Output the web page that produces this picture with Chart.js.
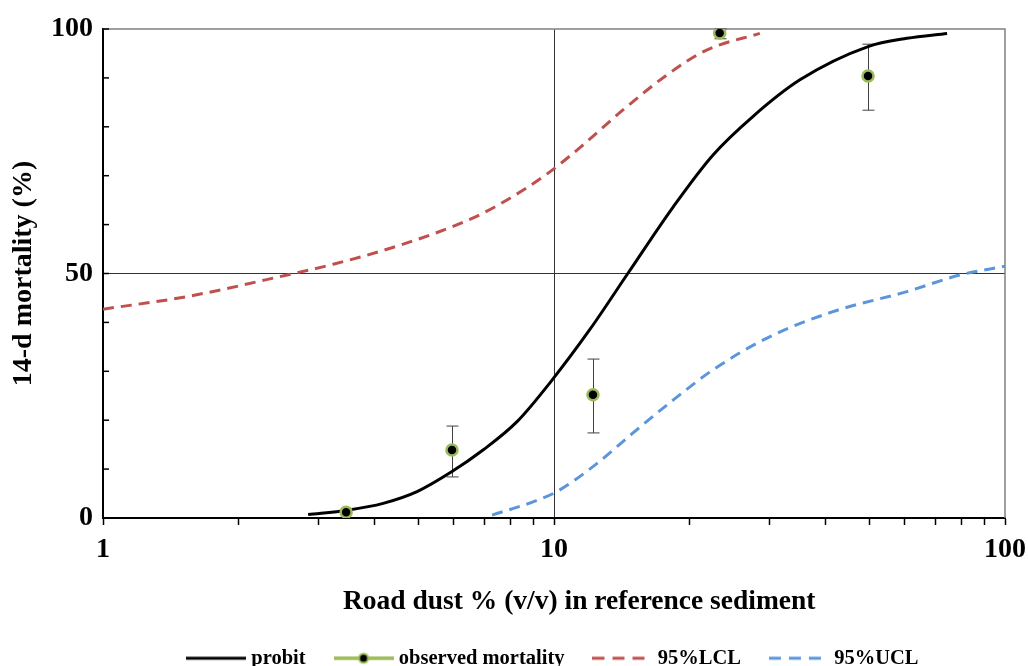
<!DOCTYPE html>
<html>
<head>
<meta charset="utf-8">
<title>Road dust mortality</title>
<script src="https://cdn.jsdelivr.net/npm/chart.js"></script>
<style>
  html, body { margin: 0; padding: 0; background: #fff; }
  #wrap { width: 1028px; height: 666px; }
</style>
</head>
<body>
<div id="wrap"><canvas id="mortalityChart"></canvas></div>
<script>
// observed mortality (with error bar ends)
const obsDust = [3.46, 5.94, 12.2, 23.3, 49.7];
const obsMortality = [1.2, 13.9, 25.2, 99.2, 90.4];
const obsLow = [1.2, 8.4, 17.4, 98.0, 83.4];
const obsHigh = [1.2, 18.8, 32.5, 100, 96.9];

// probit fit
const probitDust = [2.85, 3.48, 4.18, 4.97, 5.94, 6.96, 8.28, 9.9, 12.0, 14.6, 18.4, 22.5, 27.6, 35.1, 49.7, 60.6, 74.4];
const probitMortality = [0.7, 1.6, 3.0, 5.4, 9.5, 13.9, 19.7, 28.2, 38.5, 50.1, 63.7, 74.2, 82.1, 89.6, 96.4, 98.1, 99.1];

// 95% lower confidence limit
const lclDust = [1, 1.54, 2.56, 3.24, 4.56, 6.41, 7.59, 9.63, 11.4, 14.2, 17.8, 21.8, 28.6];
const lclMortality = [42.7, 45.3, 49.7, 51.9, 55.8, 60.8, 64.2, 70.3, 75.7, 83.4, 90.6, 95.7, 99.1];

// 95% upper confidence limit
const uclDust = [7.29, 8.98, 10.15, 12.2, 14.97, 18.36, 22.52, 29.67, 41.55, 60.6, 79.5, 100];
const uclMortality = [0.6, 3.3, 5.4, 10.5, 17.4, 24.1, 30.3, 36.8, 42.2, 46.3, 49.7, 51.5];

const xTicks = [1, 2, 3, 4, 5, 6, 7, 8, 9, 10, 20, 30, 40, 50, 60, 70, 80, 90, 100];
const xLabels = ['1', '10', '100'];
const yTicks = [0, 10, 20, 30, 40, 50, 60, 70, 80, 90, 100];
const yLabels = ['0', '50', '100'];
const xTitle = 'Road dust % (v/v) in reference sediment';

const GREEN = '#9BBB59';
const RED = '#C0504D';
const BLUE = '#5B96DC';
const FONT = "'Liberation Serif', 'Times New Roman', serif";

function pairs(xs, ys) {
    return xs.map((v, i) => ({ x: v, y: ys[i] }));
}

// small canvases used as legend samples
function swatch(color, dash, dot) {
    const c = document.createElement('canvas');
    c.width = 60; c.height = 14;
    const g = c.getContext('2d');
    g.strokeStyle = color;
    g.lineWidth = dot ? 3.5 : 3;
    g.setLineDash(dash);
    g.beginPath(); g.moveTo(0, 7); g.lineTo(60, 7); g.stroke();
    if (dot) {
        g.setLineDash([]);
        g.beginPath(); g.arc(30, 7, 4.5, 0, Math.PI * 2);
        g.fillStyle = '#000'; g.fill();
        g.lineWidth = 2; g.strokeStyle = GREEN; g.stroke();
    }
    return c;
}
const swatches = [swatch('#000', [], false), swatch(GREEN, [], true), swatch(RED, [12, 8], false), swatch(BLUE, [12, 8], false)];

// plot frame, inward y ticks, error bars, x title (sits right of centre in the original)
const extras = {
    id: 'extras',
    afterLayout(chart) {
        chart.legend.left = 158;
    },
    beforeDatasetsDraw(chart) {
        const { ctx, chartArea: a, scales: { x, y } } = chart;
        ctx.save();
        ctx.strokeStyle = '#808080';
        ctx.lineWidth = 1.5;
        ctx.beginPath();
        ctx.moveTo(a.left, a.top); ctx.lineTo(a.right, a.top); ctx.lineTo(a.right, a.bottom);
        ctx.stroke();

        ctx.strokeStyle = '#000';
        ctx.lineWidth = 1.5;
        yTicks.forEach(v => {
            const py = y.getPixelForValue(v);
            ctx.beginPath(); ctx.moveTo(a.left, py); ctx.lineTo(a.left + 6, py); ctx.stroke();
        });

        ctx.strokeStyle = '#404040';
        ctx.lineWidth = 1;
        obsDust.forEach((d, i) => {
            if (obsHigh[i] === obsLow[i]) return;
            const px = Math.round(x.getPixelForValue(d)) + 0.5;
            const lo = y.getPixelForValue(obsLow[i]);
            const hi = y.getPixelForValue(obsHigh[i]);
            ctx.beginPath();
            ctx.moveTo(px, lo); ctx.lineTo(px, hi);
            ctx.moveTo(px - 6, lo); ctx.lineTo(px + 6, lo);
            ctx.moveTo(px - 6, hi); ctx.lineTo(px + 6, hi);
            ctx.stroke();
        });
        ctx.restore();
    },
    afterDraw(chart) {
        const { ctx, chartArea: a } = chart;
        ctx.save();
        ctx.font = 'bold 27.5px ' + FONT;
        ctx.fillStyle = '#000';
        ctx.textAlign = 'center';
        ctx.textBaseline = 'middle';
        ctx.fillText(xTitle, a.left + a.width * 0.528, a.bottom + 84);
        ctx.restore();
    }
};

const ctx = document.getElementById('mortalityChart').getContext('2d');
new Chart(ctx, {
    type: 'scatter',
    data: {
        datasets: [{
            label: 'probit',
            data: pairs(probitDust, probitMortality),
            showLine: true,
            borderColor: '#000',
            borderWidth: 3,
            pointRadius: 0,
            cubicInterpolationMode: 'monotone',
            order: 2
        }, {
            label: 'observed mortality',
            data: pairs(obsDust, obsMortality),
            showLine: false,
            borderColor: GREEN,
            backgroundColor: '#000',
            pointBackgroundColor: '#000',
            pointBorderColor: GREEN,
            pointBorderWidth: 2.5,
            pointRadius: 5.5,
            order: 1
        }, {
            label: '95%LCL',
            data: pairs(lclDust, lclMortality),
            showLine: true,
            borderColor: RED,
            borderWidth: 3,
            borderDash: [11, 7],
            pointRadius: 0,
            cubicInterpolationMode: 'monotone',
            order: 3
        }, {
            label: '95%UCL',
            data: pairs(uclDust, uclMortality),
            showLine: true,
            borderColor: BLUE,
            borderWidth: 3,
            borderDash: [11, 7],
            pointRadius: 0,
            cubicInterpolationMode: 'monotone',
            order: 4
        }]
    },
    options: {
        responsive: true,
        maintainAspectRatio: false,
        animation: false,
        layout: { padding: { top: 29, right: 23, left: 0, bottom: -12.5 } },
        plugins: {
            tooltip: { enabled: false },
            legend: {
                position: 'bottom',
                align: 'start',
                labels: {
                    usePointStyle: true,
                    pointStyleWidth: 50,
                    padding: 33,
                    color: '#000',
                    font: { family: FONT, size: 20.5, weight: 'bold' },
                    generateLabels(chart) {
                        return chart.data.datasets.map((ds, i) => ({
                            text: ds.label,
                            datasetIndex: i,
                            pointStyle: swatches[i],
                            fillStyle: 'transparent',
                            strokeStyle: 'transparent',
                            lineWidth: 0,
                            fontColor: '#000',
                            hidden: false
                        }));
                    }
                }
            }
        },
        scales: {
            x: {
                type: 'logarithmic',
                min: 1,
                max: 100,
                afterBuildTicks: s => { s.ticks = xTicks.map(v => ({ value: v })); },
                afterFit: s => { s.height = 97; s.paddingLeft = 0; s.paddingRight = 0; },
                border: { color: '#000', width: 2 },
                grid: {
                    color: c => (c.tick && c.tick.value === 10) ? '#333' : 'transparent',
                    lineWidth: 1,
                    tickColor: '#000',
                    tickLength: 7,
                    tickWidth: 1.5
                },
                ticks: {
                    autoSkip: false,
                    maxRotation: 0,
                    padding: 8,
                    color: '#000',
                    font: { family: FONT, size: 28, weight: 'bold' },
                    callback: v => xLabels.includes(String(v)) ? String(v) : ''
                },
                title: { display: false }
            },
            y: {
                min: 0,
                max: 100,
                afterBuildTicks: s => { s.ticks = yTicks.map(v => ({ value: v })); },
                afterFit: s => { s.width = 103; },
                border: { color: '#000', width: 2 },
                grid: {
                    color: c => (c.tick && c.tick.value === 50) ? '#333' : 'transparent',
                    lineWidth: 1,
                    drawTicks: false
                },
                ticks: {
                    autoSkip: false,
                    padding: 10,
                    color: '#000',
                    font: { family: FONT, size: 28, weight: 'bold' },
                    callback: v => yLabels.includes(String(v)) ? String(v) : ''
                },
                title: {
                    display: true,
                    text: '14-d mortality (%)',
                    color: '#000',
                    font: { family: FONT, size: 28, weight: 'bold' },
                    padding: { top: 7, bottom: 0 }
                }
            }
        }
    },
    plugins: [extras]
});
</script>
</body>
</html>
